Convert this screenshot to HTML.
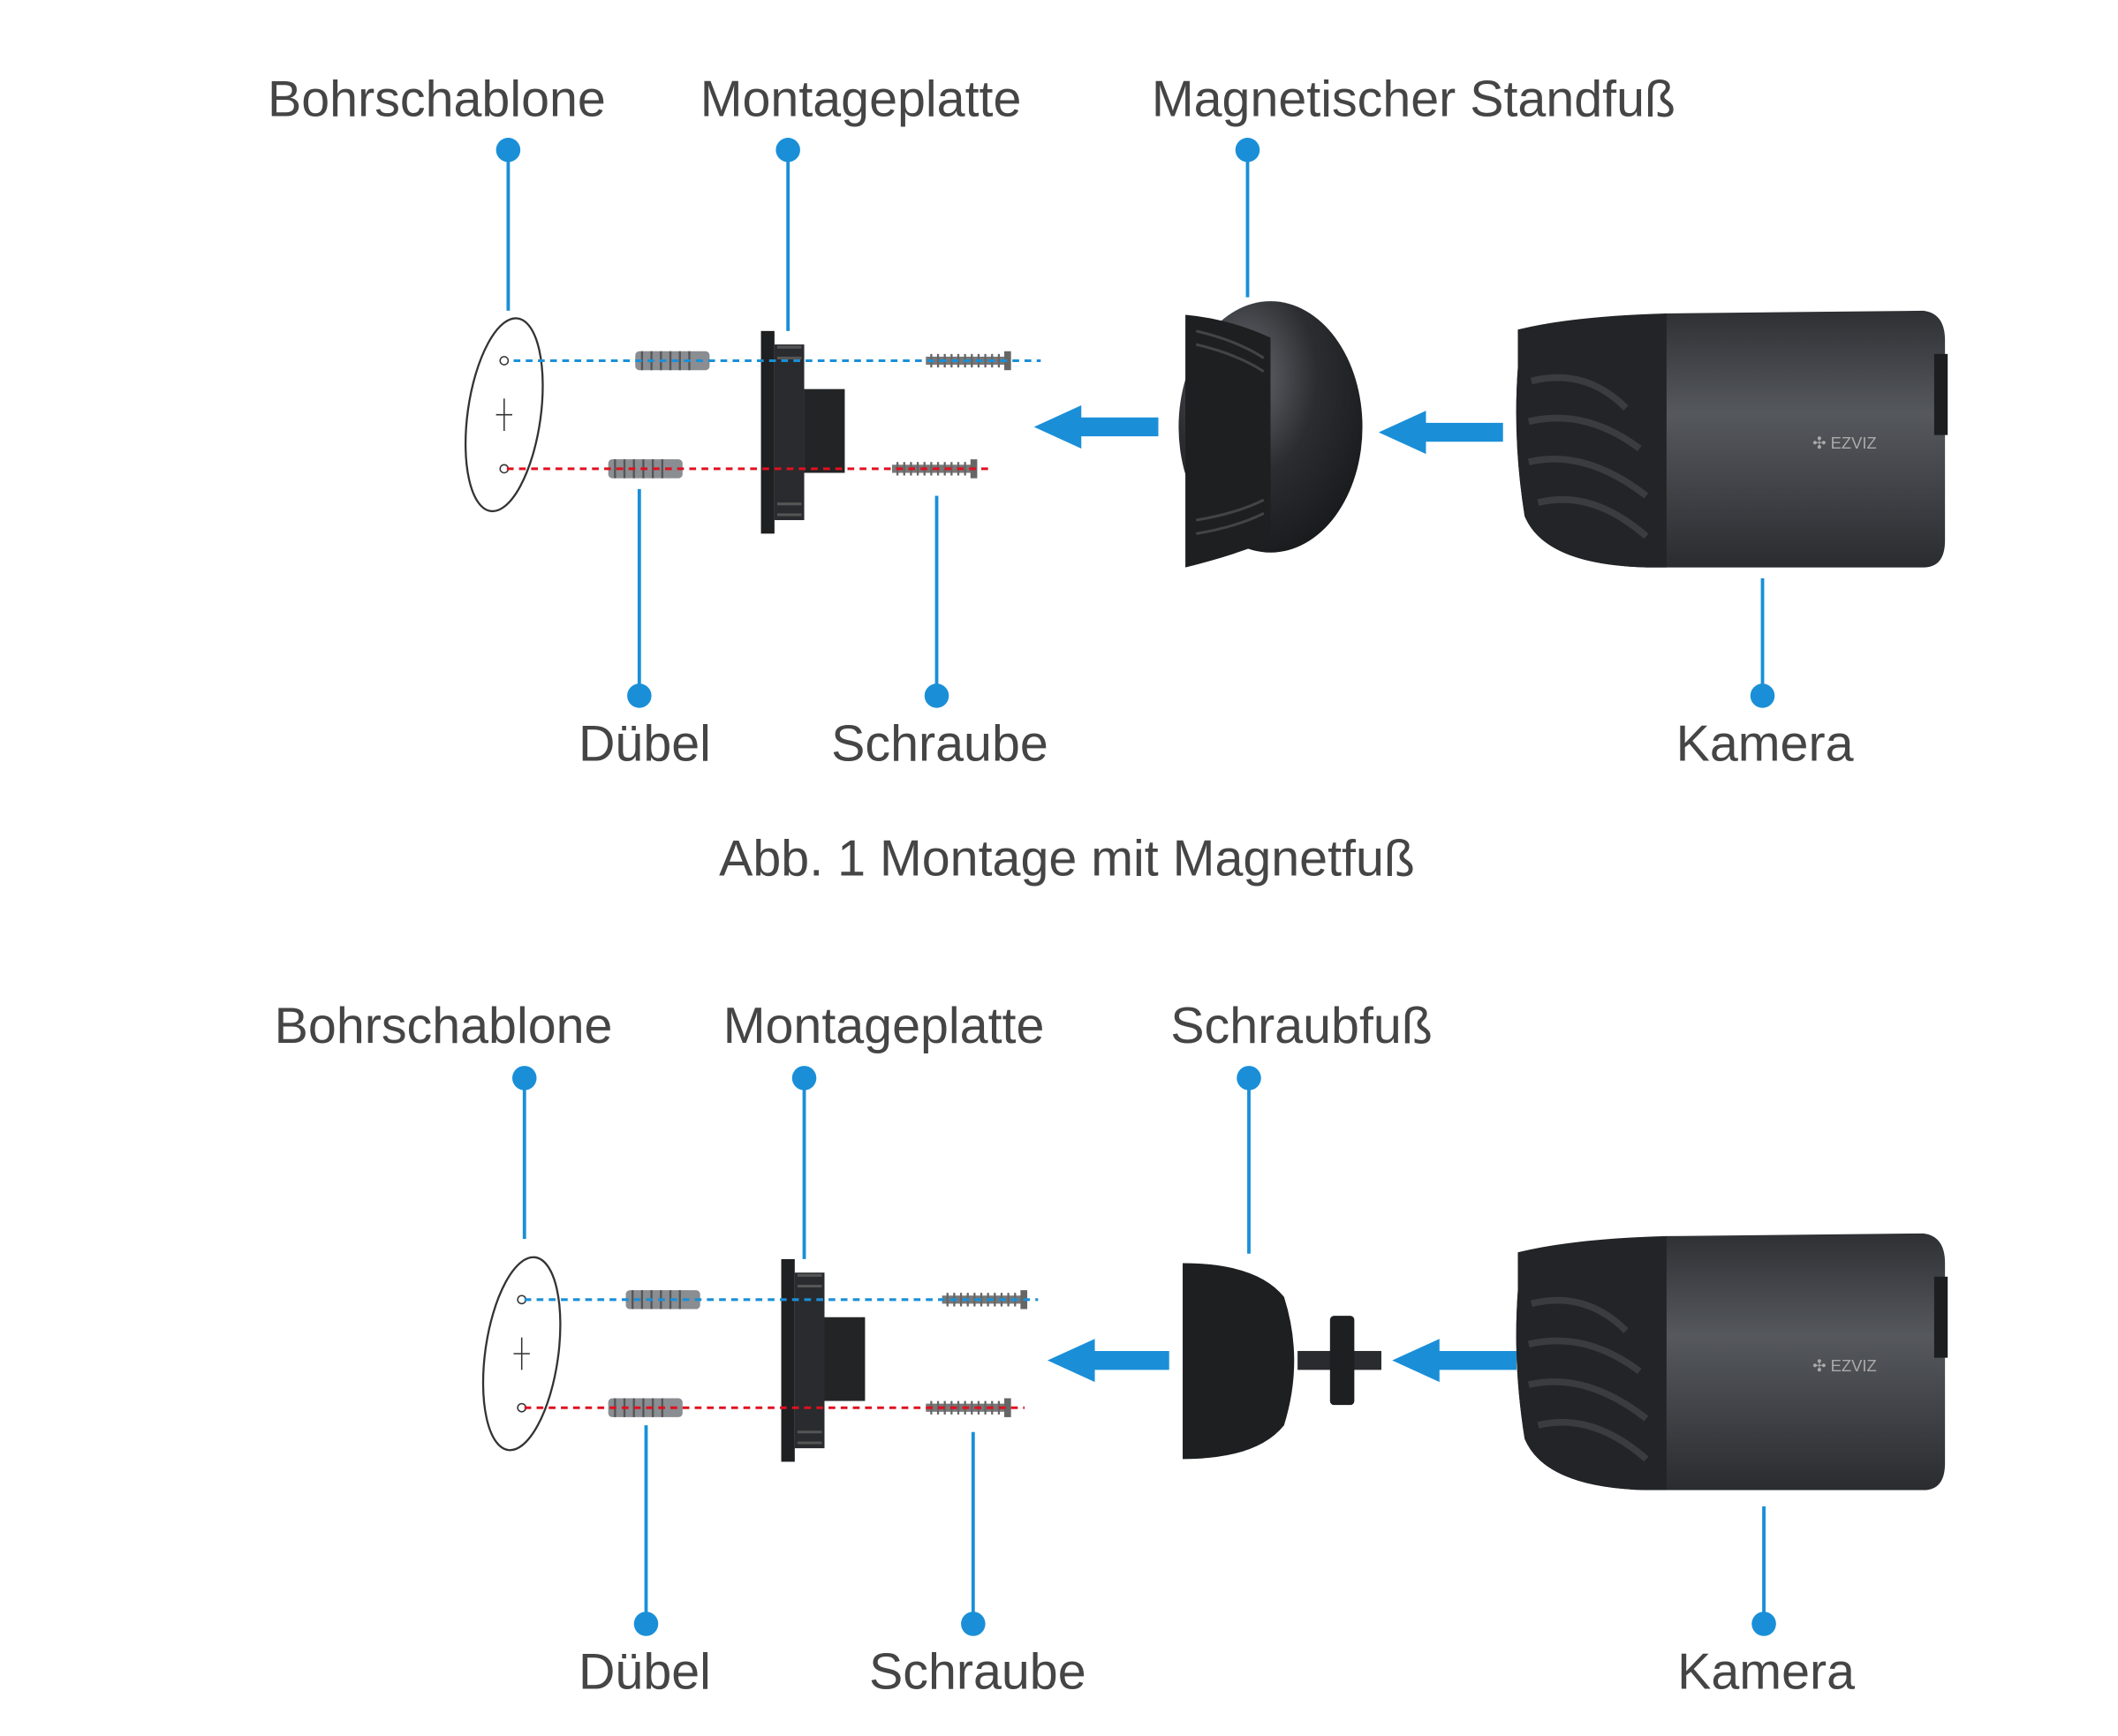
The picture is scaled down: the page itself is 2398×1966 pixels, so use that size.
<!DOCTYPE html>
<html><head><meta charset="utf-8"><style>
html,body{margin:0;padding:0;background:#fff;}
svg{display:block;}
text{font-family:"Liberation Sans",sans-serif;fill:#454545;font-size:37.5px;}
</style></head><body>
<svg width="2398" height="1966" viewBox="0 0 1567 1285" preserveAspectRatio="none" xmlns="http://www.w3.org/2000/svg">
<defs>
<linearGradient id="cg" x1="0" y1="0" x2="0" y2="1">
<stop offset="0" stop-color="#2e3034"/><stop offset="0.4" stop-color="#55585d"/><stop offset="1" stop-color="#2a2c30"/>
</linearGradient>
<radialGradient id="dome" cx="0.35" cy="0.3" r="0.8">
<stop offset="0" stop-color="#6a6d72"/><stop offset="0.5" stop-color="#2b2d31"/><stop offset="1" stop-color="#17181a"/>
</radialGradient>
<g id="cam">
<path d="M0,12 L110,0 L300,-2 Q316,0 316,20 L316,168 Q316,188 300,188 L95,188 Q20,186 5,150 Q-4,94 0,40 Z" fill="url(#cg)"/>
<path d="M0,12 Q40,2 110,0 L110,188 L95,188 Q20,186 5,150 Q-4,94 0,40 Z" fill="#232427"/>
<path d="M10,50 Q50,40 80,70 M8,80 Q50,70 90,100 M8,110 Q50,100 95,135 M15,140 Q55,130 95,165" stroke="#3a3c40" stroke-width="5" fill="none"/>
<rect x="308" y="30" width="10" height="60" fill="#1d1e20"/>
<text x="218" y="100" style="font-size:12px;fill:#aaa">✣ EZVIZ</text>
</g>
<g id="dub"><rect x="0" y="-7" width="55" height="14" rx="3" fill="#8a8d91"/><path d="M5,-7v14M12,-7v14M19,-7v14M26,-7v14M33,-7v14M40,-7v14" stroke="#555" stroke-width="1.5"/></g>
<g id="scr"><rect x="0" y="-3" width="60" height="6" fill="#777"/><path d="M4,-5v10M9,-5v10M14,-5v10M19,-5v10M24,-5v10M29,-5v10M34,-5v10M39,-5v10M44,-5v10M49,-5v10M54,-5v10" stroke="#666" stroke-width="1.5"/><rect x="58" y="-7" width="5" height="14" fill="#666"/></g>
<g id="plate"><rect x="0" y="0" width="10" height="150" fill="#1f2022"/><rect x="10" y="10" width="22" height="130" fill="#2a2b2e"/><path d="M12,12h18M12,20h18M12,128h18M12,136h18" stroke="#555" stroke-width="2"/><rect x="32" y="43" width="30" height="62" fill="#232426"/></g>
<g id="tmpl"><ellipse cx="0" cy="0" rx="27" ry="72" fill="#fff" stroke="#333" stroke-width="1.5" transform="rotate(8)"/><circle cx="0" cy="-40" r="3" fill="none" stroke="#333"/><circle cx="0" cy="40" r="3" fill="none" stroke="#333"/><path d="M0,-12v24M-6,0h12" stroke="#333"/></g>
</defs>

<!-- TOP -->
<text x="198" y="86">Bohrschablone</text>
<text x="518" y="86">Montageplatte</text>
<text x="852" y="86">Magnetischer Standfuß</text>
<g fill="#1a8fd8"><circle cx="376" cy="111" r="9"/><circle cx="583" cy="111" r="9"/><circle cx="923" cy="111" r="9"/><circle cx="473" cy="515" r="9"/><circle cx="693" cy="515" r="9"/><circle cx="1304" cy="515" r="9"/></g>
<g stroke="#1a8fd8" stroke-width="2.5"><path d="M376,111V230M583,111V245M923,111V220M473,362V515M693,367V515M1304,428V515"/></g>
<use href="#tmpl" x="373" y="307"/>
<use href="#dub" x="470" y="267"/><use href="#dub" x="450" y="347"/>
<use href="#plate" x="563" y="245"/>
<use href="#scr" x="685" y="267"/><use href="#scr" x="660" y="347"/>
<path d="M380,267H770" stroke="#1a8fd8" stroke-width="2" stroke-dasharray="5,4"/>
<path d="M375,347H735" stroke="#e01020" stroke-width="2" stroke-dasharray="5,4"/>
<path d="M857,309H800V300L765,316L800,332V323H857Z" fill="#1a8fd8"/>
<ellipse cx="940" cy="316" rx="68" ry="93" fill="url(#dome)"/>
<path d="M877,233Q910,236 940,250V400Q910,412 877,420Z" fill="#1e1f21"/>
<path d="M885,245Q915,252 935,265M885,255Q915,262 935,275M885,385Q915,380 935,370M885,395Q915,390 935,380" stroke="#444" stroke-width="2" fill="none"/>
<path d="M1112,313H1055V304L1020,320L1055,336V327H1112Z" fill="#1a8fd8"/>
<use href="#cam" x="1123" y="232"/>
<text x="428" y="563">Dübel</text>
<text x="615" y="563">Schraube</text>
<text x="1240" y="563">Kamera</text>
<text x="532" y="648">Abb. 1 Montage mit Magnetfuß</text>

<!-- BOTTOM -->
<text x="203" y="772">Bohrschablone</text>
<text x="535" y="772">Montageplatte</text>
<text x="866" y="772">Schraubfuß</text>
<g fill="#1a8fd8"><circle cx="388" cy="798" r="9"/><circle cx="595" cy="798" r="9"/><circle cx="924" cy="798" r="9"/><circle cx="478" cy="1202" r="9"/><circle cx="720" cy="1202" r="9"/><circle cx="1305" cy="1202" r="9"/></g>
<g stroke="#1a8fd8" stroke-width="2.5"><path d="M388,798V917M595,798V932M924,798V928M478,1055V1202M720,1060V1202M1305,1115V1202"/></g>
<use href="#tmpl" x="386" y="1002"/>
<use href="#dub" x="463" y="962"/><use href="#dub" x="450" y="1042"/>
<use href="#plate" x="578" y="932"/>
<use href="#scr" x="697" y="962"/><use href="#scr" x="685" y="1042"/>
<path d="M388,962H768" stroke="#1a8fd8" stroke-width="2" stroke-dasharray="5,4"/>
<path d="M388,1042H758" stroke="#e01020" stroke-width="2" stroke-dasharray="5,4"/>
<path d="M865,1000H810V991L775,1007L810,1023V1014H865Z" fill="#1a8fd8"/>
<path d="M875,935Q930,935 950,960Q965,1007 950,1055Q930,1080 875,1080Z" fill="#1e1f21"/>
<rect x="960" y="1000" width="62" height="14" fill="#2a2b2e"/>
<rect x="984" y="974" width="18" height="66" rx="3" fill="#1e1f21"/>
<path d="M1122,1000H1065V991L1030,1007L1065,1023V1014H1122Z" fill="#1a8fd8"/>
<use href="#cam" x="1123" y="915"/>
<text x="428" y="1250">Dübel</text>
<text x="643" y="1250">Schraube</text>
<text x="1241" y="1250">Kamera</text>
</svg>
</body></html>
